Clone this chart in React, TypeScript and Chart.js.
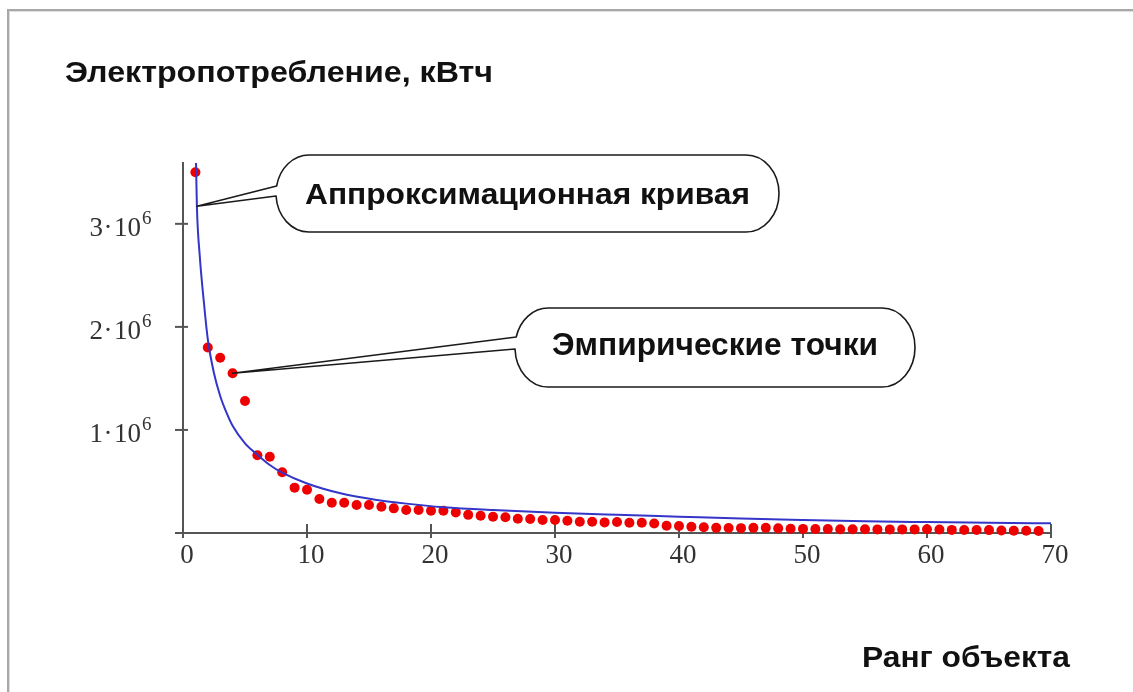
import React, { useEffect, useRef } from "react";
import { Chart, registerables } from "chart.js";

Chart.register(...registerables);

// Rank of each object (sorted by consumption)
const ranks = [
  1, 2, 3, 4, 5, 6, 7, 8, 9, 10,
  11, 12, 13, 14, 15, 16, 17, 18, 19, 20,
  21, 22, 23, 24, 25, 26, 27, 28, 29, 30,
  31, 32, 33, 34, 35, 36, 37, 38, 39, 40,
  41, 42, 43, 44, 45, 46, 47, 48, 49, 50,
  51, 52, 53, 54, 55, 56, 57, 58, 59, 60,
  61, 62, 63, 64, 65, 66, 67, 68, 69,
];

// Measured electricity consumption, kWh
const consumption = [
  3500000, 1800000, 1700000, 1550000, 1280000, 755000, 740000, 590000, 440000, 420000,
  330000, 293000, 293000, 271000, 271000, 255000, 239000, 223000, 223000, 216000,
  216000, 200000, 176000, 168000, 158000, 152000, 138000, 136000, 126000, 126000,
  119000, 110000, 109000, 103000, 106000, 100000, 100000, 92000, 70000, 68000,
  61000, 55000, 50000, 48000, 47000, 50000, 50000, 45000, 42000, 40000,
  39000, 38000, 36000, 36000, 36000, 35000, 35000, 35000, 35000, 36000,
  34000, 30000, 29000, 29000, 28000, 24000, 23000, 22000, 20000,
];

// Approximation curve samples
const curveRank = [1.05, 1.12, 1.35, 1.7, 2.0, 2.5, 3.0, 3.5, 4.0, 5.0, 6.0, 7.0, 8.0, 10, 12.7, 15.4, 18, 21, 25, 30, 35, 40, 45, 50, 55, 60, 65, 70];
const curveValue = [
  3590000, 3170000, 2690000, 2220000, 1880000, 1550000, 1330000, 1170000, 1040000, 870000,
  760000, 660000, 585000, 480000, 385000, 325000, 285000, 250000, 222000, 196000,
  176000, 158000, 140000, 126000, 114000, 106000, 99000, 94000,
];

// Axis ticks
const xTicks = [0, 10, 20, 30, 40, 50, 60, 70];
const yTicks = [1000000, 2000000, 3000000];
const yTickMantissa = ["1", "2", "3"];
const yTickExponent = "6";

const TITLE_Y = "Электропотребление, кВтч";
const TITLE_X = "Ранг объекта";
const LABEL_CURVE = "Аппроксимационная кривая";
const LABEL_POINTS = "Эмпирические точки";

const SANS = "'Liberation Sans', Arial, sans-serif";
const SERIF = "'Liberation Serif', 'Times New Roman', serif";

function fitText(ctx: CanvasRenderingContext2D, text: string, left: number, baseline: number, size: number, width: number) {
  ctx.font = `bold ${size}px ${SANS}`;
  const w = ctx.measureText(text).width;
  ctx.save();
  ctx.translate(left, baseline);
  ctx.scale(width / w, 1);
  ctx.textAlign = "left";
  ctx.textBaseline = "alphabetic";
  ctx.fillStyle = "#111";
  ctx.fillText(text, 0, 0);
  ctx.restore();
}

function drawCallout(
  ctx: CanvasRenderingContext2D,
  box: { left: number; right: number; top: number; bottom: number; rx: number },
  tip: { x: number; y: number },
  tailTop: number,
  tailBottom: number
) {
  const cy = (box.top + box.bottom) / 2;
  const ry = (box.bottom - box.top) / 2;
  const cl = box.left + box.rx;
  const cr = box.right - box.rx;
  const a1 = Math.PI - Math.asin((tailTop - cy) / ry);
  const a2 = Math.PI - Math.asin((tailBottom - cy) / ry);
  ctx.save();
  ctx.beginPath();
  ctx.moveTo(tip.x, tip.y);
  ctx.lineTo(cl + box.rx * Math.cos(a1), cy + ry * Math.sin(a1));
  ctx.ellipse(cl, cy, box.rx, ry, 0, a1, Math.PI * 1.5);
  ctx.lineTo(cr, box.top);
  ctx.ellipse(cr, cy, box.rx, ry, 0, -Math.PI / 2, Math.PI / 2);
  ctx.lineTo(cl, box.bottom);
  ctx.ellipse(cl, cy, box.rx, ry, 0, Math.PI / 2, a2);
  ctx.lineTo(tip.x, tip.y);
  ctx.closePath();
  ctx.fillStyle = "#fff";
  ctx.fill();
  ctx.strokeStyle = "#1a1a1a";
  ctx.lineWidth = 1.6;
  ctx.lineJoin = "round";
  ctx.stroke();
  ctx.restore();
}

const axesPlugin = {
  id: "plainAxes",
  beforeDatasetsDraw(chart: any) {
    const { ctx, chartArea, scales } = chart;
    const xs = scales.x;
    const ys = scales.y;
    const x0 = xs.getPixelForValue(0);
    const xEnd = xs.getPixelForValue(70);
    const y0 = ys.getPixelForValue(0);
    ctx.save();
    ctx.strokeStyle = "#555";
    ctx.lineWidth = 2;
    ctx.beginPath();
    ctx.moveTo(x0, chartArea.top);
    ctx.lineTo(x0, y0 + 5);
    ctx.moveTo(x0 - 8, y0);
    ctx.lineTo(xEnd, y0);
    ctx.stroke();

    ctx.fillStyle = "#333";
    ctx.textBaseline = "alphabetic";
    xTicks.forEach((v) => {
      const px = xs.getPixelForValue(v);
      ctx.beginPath();
      ctx.moveTo(px, y0 - 9);
      ctx.lineTo(px, y0 + 5);
      ctx.stroke();
      ctx.font = `27px ${SERIF}`;
      ctx.textAlign = "center";
      ctx.fillText(String(v), px + 4, y0 + 30);
    });
    yTicks.forEach((v, i) => {
      const py = ys.getPixelForValue(v);
      ctx.beginPath();
      ctx.moveTo(x0 - 8, py);
      ctx.lineTo(x0 + 5, py);
      ctx.stroke();
      ctx.font = `27px ${SERIF}`;
      ctx.textAlign = "right";
      ctx.fillText(yTickMantissa[i], 103, py + 12);
      ctx.textAlign = "center";
      ctx.fillText("·", 108, py + 12);
      ctx.textAlign = "left";
      ctx.fillText("10", 114, py + 12);
      ctx.font = `19px ${SERIF}`;
      ctx.fillText(yTickExponent, 142, py);
    });
    ctx.restore();
  },
};

const labelsPlugin = {
  id: "callouts",
  afterDatasetsDraw(chart: any) {
    const { ctx, scales } = chart;
    const xs = scales.x;
    const ys = scales.y;

    fitText(ctx, TITLE_Y, 65, 82, 29, 428);
    fitText(ctx, TITLE_X, 862, 667, 29, 208);

    const curveTip = { x: xs.getPixelForValue(curveRank[1]), y: ys.getPixelForValue(curveValue[1]) };
    drawCallout(ctx, { left: 276, right: 779, top: 155, bottom: 232, rx: 33 }, curveTip, 186, 196);
    fitText(ctx, LABEL_CURVE, 305, 204, 30, 445);

    const pointTip = { x: xs.getPixelForValue(ranks[3]), y: ys.getPixelForValue(consumption[3]) };
    drawCallout(ctx, { left: 515, right: 915, top: 308, bottom: 387, rx: 33 }, pointTip, 337, 349);
    fitText(ctx, LABEL_POINTS, 552, 355, 31, 326);
  },
};

export default function App() {
  const canvasRef = useRef<HTMLCanvasElement | null>(null);

  useEffect(() => {
    const canvas = canvasRef.current;
    if (!canvas) return;
    const curveData = curveRank.map((r, i) => ({ x: r, y: curveValue[i] }));
    const pointData = ranks.map((r, i) => ({ x: r, y: consumption[i] }));
    const chart = new Chart(canvas, {
      type: "scatter",
      data: {
        datasets: [
          {
            type: "line",
            label: LABEL_CURVE,
            data: curveData,
            borderColor: "#3535c8",
            borderWidth: 2,
            pointRadius: 0,
            cubicInterpolationMode: "monotone",
            fill: false,
          } as any,
          {
            type: "scatter",
            label: LABEL_POINTS,
            data: pointData,
            pointRadius: 5,
            pointBackgroundColor: "#ee0000",
            pointBorderWidth: 0,
            clip: false,
          } as any,
        ],
      },
      options: {
        responsive: false,
        animation: false,
        devicePixelRatio: 1,
        events: [],
        layout: { padding: { left: 183, right: 82, top: 162, bottom: 159 } },
        scales: {
          x: { type: "linear", min: 0, max: 70, display: false },
          y: { type: "linear", min: 0, max: 3600000, display: false },
        },
        plugins: { legend: { display: false }, tooltip: { enabled: false } },
      },
      plugins: [axesPlugin, labelsPlugin],
    });
    return () => chart.destroy();
  }, []);

  return (
    <div style={{ position: "fixed", left: 0, top: 0, width: 1133, height: 692, background: "#fff", overflow: "hidden" }}>
      <div
        style={{
          position: "absolute",
          left: 7,
          top: 9,
          right: -4,
          bottom: -4,
          borderTop: "2px solid #a8a8a8",
          borderLeft: "2px solid #a8a8a8",
          boxShadow: "inset 1px 1px 0 #dedede",
        }}
      />
      <canvas ref={canvasRef} width={1133} height={692} style={{ position: "absolute", left: 0, top: 0, width: 1133, height: 692 }} />
    </div>
  );
}
